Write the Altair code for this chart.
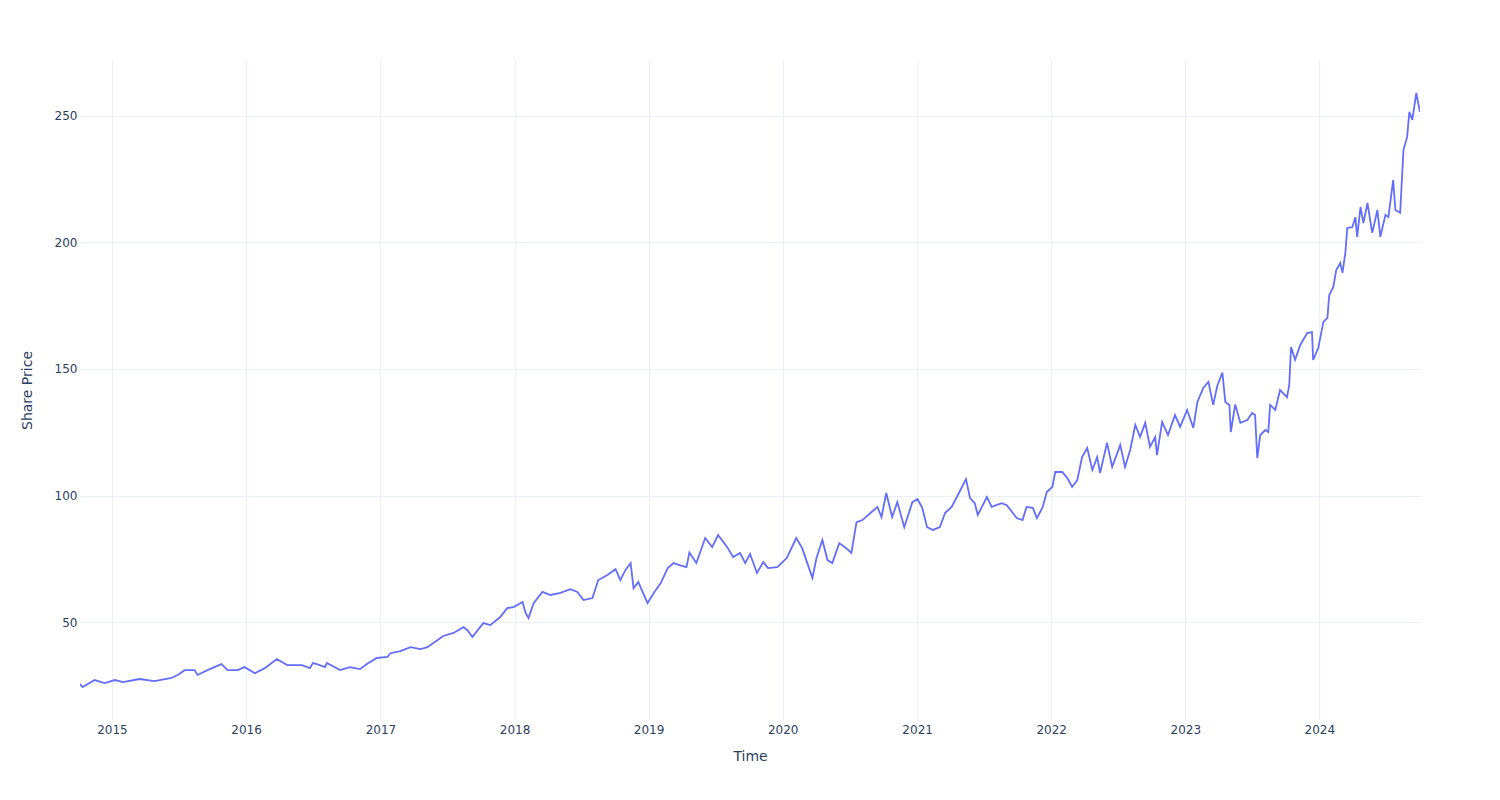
import altair as alt
import pandas as pd

dates = [
    "2014-10-06", "2014-10-13", "2014-11-15", "2014-12-12", "2015-01-09", "2015-01-31", "2015-03-17",
    "2015-04-27", "2015-06-12", "2015-06-29", "2015-07-18", "2015-08-14", "2015-08-22", "2015-09-18",
    "2015-10-26", "2015-11-12", "2015-12-09", "2015-12-28", "2016-01-25", "2016-02-21", "2016-03-25",
    "2016-04-22", "2016-06-01", "2016-06-23", "2016-07-01", "2016-07-12", "2016-08-03", "2016-08-08",
    "2016-09-13", "2016-10-10", "2016-11-06", "2016-11-25", "2016-12-22", "2017-01-20", "2017-01-28",
    "2017-02-24", "2017-03-24", "2017-04-20", "2017-05-09", "2017-05-25", "2017-06-21", "2017-07-19",
    "2017-08-15", "2017-08-26", "2017-09-08", "2017-10-08", "2017-10-27", "2017-11-23", "2017-12-12",
    "2017-12-29", "2018-01-23", "2018-01-31", "2018-02-08", "2018-02-22", "2018-03-18", "2018-04-09",
    "2018-05-06", "2018-06-02", "2018-06-21", "2018-07-08", "2018-08-01", "2018-08-17", "2018-09-11",
    "2018-10-03", "2018-10-16", "2018-10-30", "2018-11-13", "2018-11-21", "2018-12-04", "2018-12-29",
    "2019-01-15", "2019-02-03", "2019-02-22", "2019-03-10", "2019-03-26", "2019-04-14", "2019-04-22",
    "2019-05-11", "2019-06-04", "2019-06-23", "2019-07-09", "2019-08-03", "2019-08-19", "2019-09-07",
    "2019-09-21", "2019-10-04", "2019-10-23", "2019-11-09", "2019-11-22", "2019-12-17", "2020-01-12",
    "2020-02-07", "2020-02-23", "2020-03-08", "2020-03-22", "2020-04-02", "2020-04-18", "2020-05-02",
    "2020-05-15", "2020-06-03", "2020-06-22", "2020-07-06", "2020-07-20", "2020-08-05", "2020-08-30",
    "2020-09-15", "2020-09-26", "2020-10-09", "2020-10-25", "2020-11-08", "2020-11-27", "2020-12-19",
    "2021-01-02", "2021-01-15", "2021-01-28", "2021-02-13", "2021-03-04", "2021-03-18", "2021-04-05",
    "2021-04-22", "2021-05-14", "2021-05-25", "2021-06-07", "2021-06-15", "2021-07-10", "2021-07-23",
    "2021-08-19", "2021-09-02", "2021-09-29", "2021-10-15", "2021-10-26", "2021-11-12", "2021-11-23",
    "2021-12-09", "2021-12-20", "2022-01-04", "2022-01-12", "2022-01-31", "2022-02-14", "2022-02-27",
    "2022-03-13", "2022-03-26", "2022-04-09", "2022-04-23", "2022-05-06", "2022-05-14", "2022-06-02",
    "2022-06-16", "2022-07-08", "2022-07-21", "2022-08-04", "2022-08-18", "2022-08-31", "2022-09-14",
    "2022-09-27", "2022-10-11", "2022-10-16", "2022-10-30", "2022-11-15", "2022-12-04", "2022-12-18",
    "2023-01-06", "2023-01-23", "2023-02-03", "2023-02-19", "2023-03-05", "2023-03-18", "2023-03-29",
    "2023-04-12", "2023-04-20", "2023-05-01", "2023-05-05", "2023-05-17", "2023-05-31", "2023-06-19",
    "2023-07-02", "2023-07-10", "2023-07-16", "2023-07-24", "2023-08-07", "2023-08-15", "2023-08-20",
    "2023-09-03", "2023-09-16", "2023-10-05", "2023-10-11", "2023-10-16", "2023-10-27", "2023-11-10",
    "2023-11-29", "2023-12-12", "2023-12-15", "2023-12-29", "2024-01-12", "2024-01-23", "2024-01-26",
    "2024-01-28", "2024-02-08", "2024-02-16", "2024-02-27", "2024-03-04", "2024-03-12", "2024-03-17",
    "2024-03-31", "2024-04-08", "2024-04-13", "2024-04-22", "2024-04-30", "2024-05-11", "2024-05-24",
    "2024-06-07", "2024-06-15", "2024-06-29", "2024-07-07", "2024-07-20", "2024-07-26", "2024-08-08",
    "2024-08-17", "2024-08-27", "2024-09-02", "2024-09-10", "2024-09-21", "2024-09-26", "2024-10-01",
]

prices = [
    25.5, 24.3, 27.1, 25.9, 27.1, 26.3, 27.5,
    26.7, 27.9, 29.1, 31.0, 31.0, 29.1, 31.0,
    33.4, 31.0, 31.0, 32.2, 29.8, 31.8, 35.4,
    33.0, 33.0, 31.8, 33.8, 33.4, 32.2, 33.8,
    31.0, 32.2, 31.4, 33.4, 35.8, 36.2, 37.7,
    38.5, 40.1, 39.3, 40.1, 41.7, 44.5, 45.7,
    48.0, 46.8, 44.1, 49.6, 48.8, 52.0, 55.5,
    55.9, 57.9, 53.6, 51.6, 57.5, 61.9, 60.7,
    61.5, 63.0, 61.9, 58.7, 59.5, 66.6, 68.6,
    70.9, 66.6, 70.6, 73.3, 63.4, 65.8, 57.5,
    61.5, 65.4, 71.3, 73.3, 72.5, 71.7, 77.5,
    73.3, 83.2, 79.6, 84.4, 79.6, 75.7, 77.3,
    73.3, 76.9, 69.4, 73.7, 71.3, 71.7, 75.3,
    83.2, 79.2, 73.3, 67.4, 75.3, 82.4, 74.5,
    73.3, 81.2, 79.2, 77.3, 89.5, 90.3, 93.5,
    95.5, 91.5, 101.0, 91.5, 97.4, 87.5, 97.4,
    98.6, 95.1, 87.5, 86.4, 87.5, 93.1, 95.5,
    100.2, 106.5, 99.0, 97.0, 92.3, 99.4, 95.5,
    97.0, 96.2, 91.1, 90.3, 95.5, 95.1, 91.1,
    95.5, 101.4, 103.4, 109.3, 109.3, 106.9, 103.4,
    106.1, 115.2, 118.8, 110.1, 115.2, 108.9, 120.8,
    111.3, 120.0, 111.3, 118.0, 127.9, 123.1, 128.7,
    119.2, 123.1, 116.0, 129.1, 123.9, 131.8, 127.1,
    133.8, 126.7, 137.0, 142.5, 144.9, 135.8, 143.3,
    148.6, 137.0, 135.8, 125.1, 136.0, 128.7, 129.8,
    132.6, 131.8, 114.8, 123.9, 125.9, 125.1, 135.8,
    133.8, 141.7, 138.9, 143.7, 158.7, 153.6, 159.5,
    164.2, 164.6, 153.6, 158.3, 168.6, 170.2, 176.0,
    179.2, 182.4, 189.1, 191.9, 188.0, 196.2, 205.7,
    206.1, 210.0, 202.2, 214.0, 207.7, 215.6, 203.8,
    212.8, 202.2, 210.9, 210.0, 224.7, 212.8, 211.7,
    236.6, 241.7, 251.6, 248.4, 259.1, 255.1, 251.6,
]

y_ticks = [50, 100, 150, 200, 250]

df = pd.DataFrame({"Time": dates, "Share Price": prices})

FONT = "DejaVu Sans"
TXT = "#2a3f5f"
GRID = "#EBF0F8"

chart = (
    alt.Chart(df)
    .mark_line(color="#636EFA", strokeWidth=1.8, clip=True)
    .encode(
        x=alt.X(
            "Time:T",
            scale=alt.Scale(type="utc", domain=["2014-10-06", "2024-10-01"], nice=False),
            axis=alt.Axis(
                title="Time",
                format="%Y",
                formatType="utc",
                tickCount={"interval": "year", "step": 1},
                grid=True,
                gridColor=GRID,
                gridWidth=1,
                domain=False,
                ticks=False,
                labelPadding=4,
                labelFont=FONT,
                labelFontSize=12,
                labelColor=TXT,
                titleFont=FONT,
                titleFontSize=14,
                titleFontWeight="normal",
                titleColor=TXT,
                titleX=670,
                titleY=36,
                titleBaseline="middle",
                titleAlign="center",
                labelFlush=False,
            ),
        ),
        y=alt.Y(
            "Share Price:Q",
            scale=alt.Scale(domain=[11.3, 272.1], nice=False, zero=False),
            axis=alt.Axis(
                title="Share Price",
                values=y_ticks,
                grid=True,
                gridColor=GRID,
                gridWidth=1,
                domain=False,
                ticks=False,
                labelPadding=3,
                labelFont=FONT,
                labelFontSize=12,
                labelColor=TXT,
                titleFont=FONT,
                titleFontSize=14,
                titleFontWeight="normal",
                titleColor=TXT,
                titleX=-53,
                titleY=330,
                titleAngle=-90,
                titleBaseline="middle",
                titleAlign="center",
            ),
        ),
    )
    .properties(
        width=1340,
        height=660,
        autosize=alt.AutoSizeParams(type="none"),
        padding={"left": 72, "top": 52, "right": 60, "bottom": 60},
        background="white",
    )
    .configure_view(strokeWidth=0)
)

chart.save("out.html", embed_options={"renderer": "svg", "actions": False})
